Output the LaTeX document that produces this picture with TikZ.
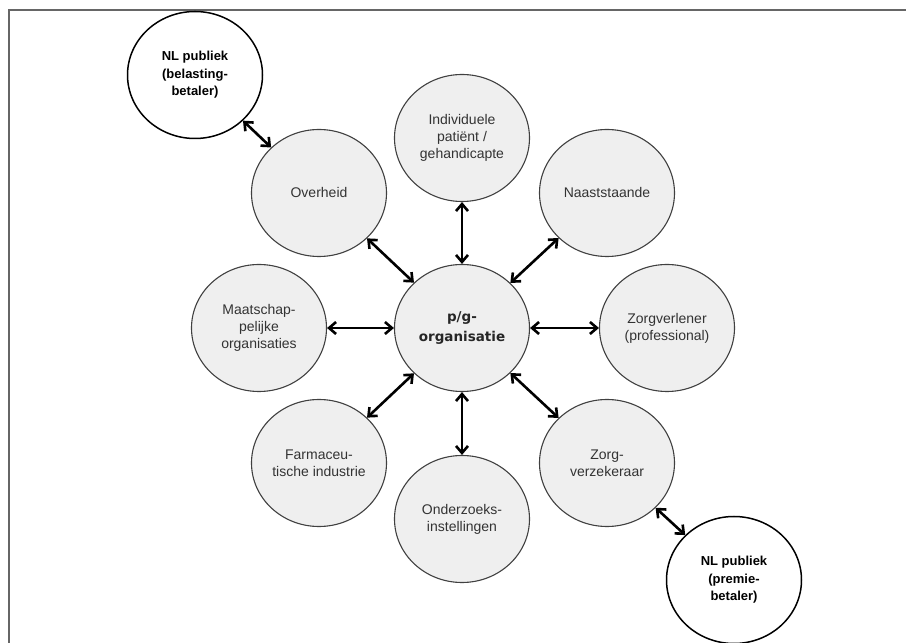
\documentclass[tikz,border=0pt]{standalone}
\usepackage{fontspec}
\setmainfont{Liberation Sans}
\newfontfamily\hubfont{DejaVu Sans}
\usetikzlibrary{shapes.geometric, arrows.meta, positioning}
\definecolor{ringfill}{HTML}{EFEFEF}
\definecolor{ringline}{HTML}{404040}
\definecolor{labeltext}{HTML}{333333}
\definecolor{framegray}{HTML}{666666}

\begin{document}
\begin{tikzpicture}[
    x=1pt, y=1pt,
    on grid,
    every node/.style={font=\fontsize{14}{17}\selectfont},
    party/.style={ellipse, draw=ringline, line width=1.1pt, fill=ringfill, text=labeltext,
                  minimum width=135pt, minimum height=127pt, inner sep=0pt, align=center},
    hub/.style={party, text=black!85, font=\hubfont\bfseries\fontsize{13.5}{20}\selectfont},
    public/.style={party, fill=white, draw=black, line width=1.5pt, text=black,
                   font=\bfseries\fontsize{13}{17.5}\selectfont},
    arr/.style={{Straight Barb[length=7pt, width=12pt]}-{Straight Barb[length=7pt, width=12pt]},
                line width=2.6pt},
]
    \useasboundingbox (0,0) rectangle (906,643);
    \draw[framegray, line width=2pt] (8.5,0) -- (8.5,633) -- (906,633);

    % Centre
    \node[hub] (pg) at (462,315) {p/g-\\organisatie};

    % Ring of parties
    \node[party, above=190pt of pg] (patient) {Individuele\\patiënt /\\gehandicapte};
    \node[party, above right=135pt and 145pt of pg] (naast) {Naaststaande};
    \node[party, right=205pt of pg] (zorgverl) {Zorgverlener\\(professional)};
    \node[party, below right=135pt and 145pt of pg] (verzek) {Zorg-\\verzekeraar};
    \node[party, below=191pt of pg] (onderz) {Onderzoeks-\\instellingen};
    \node[party, below left=135pt and 143pt of pg] (farma) {Farmaceu-\\tische industrie};
    \node[party, left=203pt of pg] (maatsch) {Maatschap-\\pelijke\\organisaties};
    \node[party, above left=135pt and 143pt of pg] (overheid) {Overheid};

    % Public
    \node[public, above left=118pt and 124pt of overheid] (nltop) {NL publiek\\(belasting-\\betaler)};
    \node[public, below right=117pt and 127pt of verzek] (nlbot) {NL publiek\\(premie-\\betaler)};

    % Arrows
    \foreach \p in {patient, naast, zorgverl, verzek, onderz, farma, maatsch, overheid}
        \draw[arr] (pg) -- (\p);
    \draw[arr] (nltop) -- (overheid);
    \draw[arr] (verzek) -- (nlbot);
\end{tikzpicture}
\end{document}
